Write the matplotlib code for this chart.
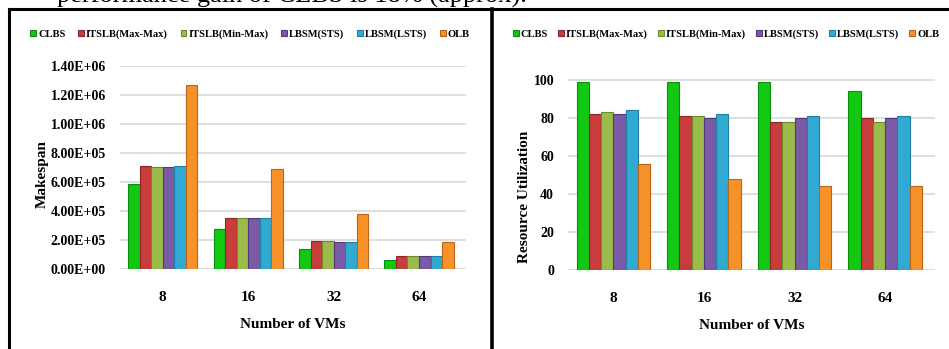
import matplotlib
matplotlib.use("Agg")
import matplotlib.pyplot as plt
import numpy as np
from matplotlib.lines import Line2D

categories = ["8", "16", "32", "64"]
series = ["CLBS", "ITSLB(Max-Max)", "ITSLB(Min-Max)", "LBSM(STS)", "LBSM(LSTS)", "OLB"]
colors = ["#12c812", "#c83c3c", "#9bbb4a", "#7b5aa6", "#30aad2", "#f79228"]
edge_colors = ["#0a8f0a", "#8e2626", "#6c8a2e", "#54397a", "#1f7fa0", "#b8641a"]

makespan_clbs = [5.85e5, 2.75e5, 1.40e5, 6.5e4]
makespan_max_max = [7.10e5, 3.50e5, 1.90e5, 9.0e4]
makespan_min_max = [7.05e5, 3.50e5, 1.92e5, 9.0e4]
makespan_sts = [7.05e5, 3.50e5, 1.88e5, 8.8e4]
makespan_lsts = [7.10e5, 3.50e5, 1.88e5, 8.8e4]
makespan_olb = [1.27e6, 6.90e5, 3.80e5, 1.85e5]

util_clbs = [99, 99, 99, 94]
util_max_max = [82, 81, 78, 80]
util_min_max = [83, 81, 78, 78]
util_sts = [82, 80, 80, 80]
util_lsts = [84, 82, 81, 81]
util_olb = [56, 48, 44, 44]

makespan_ticks = ["0.00E+00", "2.00E+05", "4.00E+05", "6.00E+05", "8.00E+05",
                  "1.00E+06", "1.20E+06", "1.40E+06"]
util_ticks = ["0", "20", "40", "60", "80", "100"]

makespan = [makespan_clbs, makespan_max_max, makespan_min_max, makespan_sts, makespan_lsts, makespan_olb]
util = [util_clbs, util_max_max, util_min_max, util_sts, util_lsts, util_olb]

plt.rcParams['font.family'] = ['Liberation Serif', 'DejaVu Serif']
plt.rcParams['font.weight'] = 'bold'

W, H = 949, 349
fig = plt.figure(figsize=(W / 100, H / 100), dpi=100)

def px(x0, y0, x1, y1):
    return [x0 / W, 1 - y1 / H, (x1 - x0) / W, (y1 - y0) / H]

ax1 = fig.add_axes(px(120, 66, 466, 269))
ax2 = fig.add_axes(px(568, 78, 935, 270))

def draw(ax, data, ymax, tickvals, ticklabels, ylabel):
    x = np.arange(len(categories))
    n = len(series)
    bw = 0.135
    for i, (vals, c, ec) in enumerate(zip(data, colors, edge_colors)):
        ax.bar(x + (i - (n - 1) / 2) * bw, vals, width=bw, color=c,
               edgecolor=ec, linewidth=0.8, zorder=3, label=series[i])
    ax.set_xlim(-0.5, 3.55)
    ax.set_ylim(0, ymax)
    ax.set_yticks(tickvals)
    ax.set_yticklabels(ticklabels, fontsize=10, fontweight='bold')
    ax.set_xticks(x)
    ax.set_xticklabels(categories, fontsize=11, fontweight='bold')
    ax.tick_params(axis='both', length=0)
    ax.tick_params(axis='x', pad=16)
    ax.tick_params(axis='y', pad=10)
    ax.grid(axis='y', color='#d9d9d9', linewidth=1.2, zorder=0)
    for s in ax.spines.values():
        s.set_visible(False)
    ax.set_xlabel("Number of VMs", fontsize=11, fontweight='bold', labelpad=10)
    ax.set_ylabel(ylabel, fontsize=11, fontweight='bold')

draw(ax1, makespan, 1.4e6, np.arange(0, 1.41e6, 2e5), makespan_ticks, "Makespan")
ax1.yaxis.set_label_coords(-0.205, 0.47)
draw(ax2, util, 101, np.arange(0, 101, 20), util_ticks, "Resource Utilization")
ax2.yaxis.set_label_coords(-0.1, 0.38)

for ax, xc, cs in [(ax1, 250 / W, 1.2), (ax2, 726 / W, 0.95)]:
    h, l = ax.get_legend_handles_labels()
    fig.legend(h, l, loc='center', bbox_to_anchor=(xc, 1 - 34 / H), ncol=6,
               frameon=False, handlelength=0.55, handleheight=0.55,
               handletextpad=0.2, columnspacing=cs,
               prop={'weight': 'bold', 'size': 7.6})

# panel frame lines
fig.add_artist(Line2D([9 / W, 9 / W], [0, 1 - 9 / H], transform=fig.transFigure, color='black', lw=2.2))
fig.add_artist(Line2D([9 / W, 1], [1 - 9 / H, 1 - 9 / H], transform=fig.transFigure, color='black', lw=2.2))
fig.add_artist(Line2D([492 / W, 492 / W], [0, 1 - 9 / H], transform=fig.transFigure, color='black', lw=2.6))

# cropped page text at top
fig.text(57 / W, 1 - 8 / H, "performance gain of CLBS is 18% (approx).", fontsize=19,
         fontweight='normal', va='bottom', ha='left', color='black')

fig.savefig("out.png", dpi=100)
